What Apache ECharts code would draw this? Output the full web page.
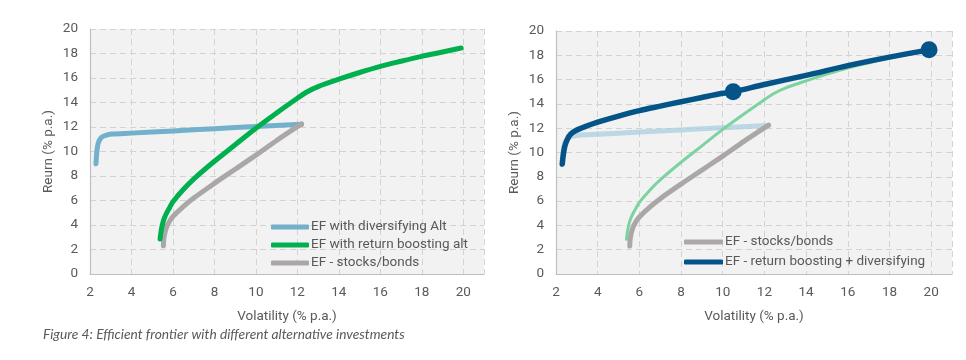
<!DOCTYPE html>
<html>
<head>
<meta charset="utf-8">
<script src="https://cdn.jsdelivr.net/npm/echarts@6/dist/echarts.min.js"></script>
<style>
html,body{margin:0;padding:0;background:#fff;}
#c{width:966px;height:360px;}
</style>
</head>
<body>
<div id="c"></div>
<script>
// ---- data ----
const xTicks = [2, 4, 6, 8, 10, 12, 14, 16, 18, 20];
const yTicks = [0, 2, 4, 6, 8, 10, 12, 14, 16, 18, 20];

const divVol = [2.29, 2.32, 2.40, 2.55, 2.72, 3.05, 4.0, 6.0, 8.0, 10.0, 12.2];
const divRet = [9.0, 9.8, 10.7, 11.15, 11.3, 11.42, 11.5, 11.68, 11.86, 12.04, 12.22];

const boostVol = [5.38, 5.42, 5.48, 5.57, 5.7, 5.85, 6.0, 6.5, 7.0, 8.0, 9.0, 10.0, 11.0, 12.0, 12.5, 13.0, 14.0, 15.0, 16.0, 17.0, 18.0, 19.0, 19.9];
const boostRet = [2.85, 3.4, 3.95, 4.5, 5.0, 5.45, 5.9, 6.9, 7.75, 9.2, 10.55, 11.9, 13.15, 14.35, 14.9, 15.3, 15.9, 16.45, 16.95, 17.37, 17.77, 18.12, 18.45];

const sbVol = [5.54, 5.55, 5.58, 5.64, 5.72, 5.85, 6.0, 6.5, 7.0, 8.0, 9.0, 10.0, 11.0, 12.2];
const sbRet = [2.3, 2.7, 3.1, 3.55, 3.95, 4.35, 4.7, 5.5, 6.2, 7.4, 8.55, 9.7, 10.9, 12.25];

const combVol = [2.3, 2.35, 2.42, 2.55, 2.7, 3.0, 3.5, 4.0, 5.0, 6.0, 7.0, 8.0, 9.0, 10.0, 10.5, 12.0, 14.0, 16.0, 18.0, 19.9];
const combRet = [9.05, 9.8, 10.5, 11.1, 11.5, 11.85, 12.2, 12.5, 13.0, 13.45, 13.82, 14.18, 14.53, 14.87, 15.0, 15.6, 16.35, 17.15, 17.85, 18.45];

const markVol = [10.5, 19.9];
const markRet = [15.0, 18.45];

const names = {
  div: 'EF with diversifying Alt',
  boost: 'EF with return boosting alt',
  sb: 'EF - stocks/bonds',
  comb: 'EF - return boosting + diversifying'
};

const zip = (a, b) => a.map((v, i) => [v, b[i]]);

// ---- styles ----
const FONT = 'Roboto';
const TXT = '#595959';
const C_DIV = '#72b0cb';
const C_BOOST = '#00b04f';
const C_SB = '#aba7a7';
const C_COMB = '#045488';

function xAx(gi) {
  return {
    type: 'value', gridIndex: gi, min: 2, max: 21, interval: 2,
    name: 'Volatility (% p.a.)', nameLocation: 'middle', nameGap: 36,
    nameTextStyle: { color: TXT, fontSize: 13.5, fontFamily: FONT },
    axisLine: { show: true, lineStyle: { color: '#bfbfbf', width: 1.2 } },
    axisTick: { show: false },
    axisLabel: { color: TXT, fontSize: 13.5, fontFamily: FONT, margin: 12, showMaxLabel: false,
      formatter: v => xTicks.includes(v) ? String(v) : '' },
    splitLine: { show: true, lineStyle: { color: '#d3d3d3', type: [6, 4], width: 1 } }
  };
}
function yAx(gi) {
  return {
    type: 'value', gridIndex: gi, min: 0, max: 20, interval: 2,
    name: 'Reurn (% p.a.)', nameLocation: 'middle', nameGap: 34, nameRotate: 90,
    nameTextStyle: { color: TXT, fontSize: 13.5, fontFamily: FONT },
    axisLine: { show: true, lineStyle: { color: '#bfbfbf', width: 1.2 } },
    axisTick: { show: false },
    axisLabel: { color: TXT, fontSize: 13.5, fontFamily: FONT, margin: 12,
      formatter: v => yTicks.includes(v) ? String(v) : '' },
    splitLine: { show: true, lineStyle: { color: '#d3d3d3', type: [6, 4], width: 1 } }
  };
}
function line(name, gi, data, color, width, opacity) {
  return {
    type: 'line', name, xAxisIndex: gi, yAxisIndex: gi, data,
    smooth: 0.3, symbol: 'none', showSymbol: false, silent: true,
    color: color,
    itemStyle: { color },
    lineStyle: { color, width, cap: 'round', join: 'round', opacity: opacity == null ? 1 : opacity },
    animation: false, z: 2
  };
}

const chart = echarts.init(document.getElementById('c'), null, { renderer: 'canvas' });
chart.setOption({
  backgroundColor: '#ffffff',
  animation: false,
  textStyle: { fontFamily: FONT },
  grid: [
    { left: 90, top: 29, width: 394, height: 245, show: true, backgroundColor: '#f2f2f2', borderWidth: 0 },
    { left: 556, top: 31, width: 396, height: 243, show: true, backgroundColor: '#f2f2f2', borderWidth: 0 }
  ],
  xAxis: [xAx(0), xAx(1)],
  yAxis: [yAx(0), yAx(1)],
  legend: [
    { orient: 'vertical', left: 266, top: 214, itemWidth: 38, itemHeight: 5, itemGap: 2,
      icon: 'roundRect', selectedMode: false,
      textStyle: { color: TXT, fontSize: 13.5, fontFamily: FONT, lineHeight: 16, padding: [0, 0, 0, -3] },
      data: [names.div, names.boost, names.sb] },
    { orient: 'vertical', left: 679, top: 229, itemWidth: 39, itemHeight: 5, itemGap: 4,
      icon: 'roundRect', selectedMode: false,
      textStyle: { color: TXT, fontSize: 13.5, fontFamily: FONT, lineHeight: 16, padding: [0, 0, 0, -3] },
      data: [names.sb, names.comb] }
  ],
  graphic: [
    { type: 'text', left: 43, top: 328,
      style: { text: 'Figure 4: Efficient frontier with different alternative investments',
        fill: TXT, fontSize: 13.75, fontStyle: 'italic', fontFamily: 'Lato' } }
  ],
  series: [
    line(names.div, 0, zip(divVol, divRet), C_DIV, 5),
    line(names.sb, 0, zip(sbVol, sbRet), C_SB, 5),
    line(names.boost, 0, zip(boostVol, boostRet), C_BOOST, 5),

    line('diversifying (faded)', 1, zip(divVol, divRet), '#aacfe0', 5, 0.75),
    line('return boosting (faded)', 1, zip(boostVol, boostRet), '#7dd3a0', 3),
    line(names.sb, 1, zip(sbVol, sbRet), C_SB, 5),
    line(names.comb, 1, zip(combVol, combRet), C_COMB, 5.5),
    { type: 'scatter', name: 'markers', xAxisIndex: 1, yAxisIndex: 1, data: zip(markVol, markRet),
      symbol: 'circle', symbolSize: 17, itemStyle: { color: C_COMB, opacity: 1 }, silent: true, z: 3, animation: false }
  ]
});
</script>
</body>
</html>
